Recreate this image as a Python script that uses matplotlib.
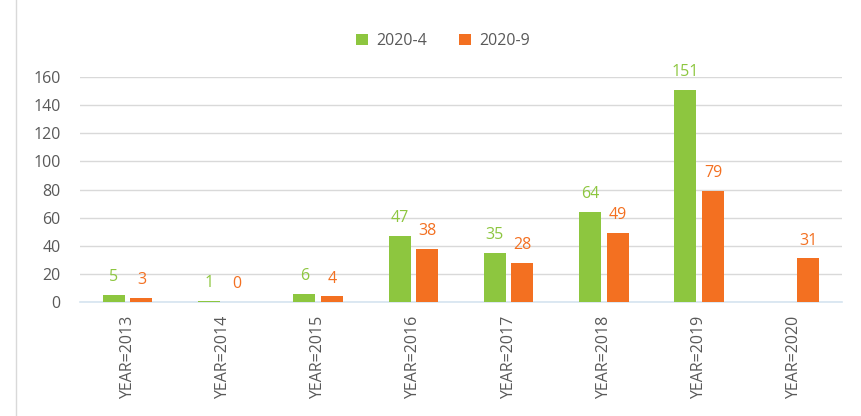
import matplotlib.pyplot as plt
import numpy as np
from matplotlib.lines import Line2D

years = ['YEAR=2013', 'YEAR=2014', 'YEAR=2015', 'YEAR=2016',
         'YEAR=2017', 'YEAR=2018', 'YEAR=2019', 'YEAR=2020']
apr_2020 = [5, 1, 6, 47, 35, 64, 151, None]
sep_2020 = [3, 0, 4, 38, 28, 49, 79, 31]
series_names = ['2020-4', '2020-9']

green = '#8DC63F'
orange = '#F37021'
grey_text = '#595959'

plt.rcParams['font.family'] = ['Open Sans', 'DejaVu Sans']

fig = plt.figure(figsize=(8.61, 4.16), dpi=100)
ax = fig.add_axes([80 / 861, 114 / 416, 762 / 861, 225 / 416])

x = np.arange(len(years))
w = 0.23
off = 0.145

apr_vals = [v if v is not None else 0 for v in apr_2020]
b1 = ax.bar(x - off, apr_vals, w, color=green, label=series_names[0], zorder=3)
b2 = ax.bar(x + off, sep_2020, w, color=orange, label=series_names[1], zorder=3)

for xi, v in zip(x, apr_2020):
    if v is not None:
        ax.text(xi - off, v + 7, str(v), ha='center', va='bottom',
                color=green, fontsize=11.5, clip_on=False)
for xi, v in zip(x, sep_2020):
    ax.text(xi + off, v + 7, str(v), ha='center', va='bottom',
            color=orange, fontsize=11.5, clip_on=False)

ax.set_xlim(-0.5, len(years) - 0.5)
ax.set_ylim(0, 160)
ax.set_yticks(range(0, 161, 20))
ax.yaxis.grid(True, color='#d9d9d9', linewidth=1, zorder=0)
ax.set_axisbelow(True)

for s in ['top', 'right', 'left']:
    ax.spines[s].set_visible(False)
ax.spines['bottom'].set_color('#d6e4f0')
ax.spines['bottom'].set_linewidth(1.2)

ax.set_xticks(x)
ax.set_xticklabels(years, rotation=90, color=grey_text, fontsize=11.5)
ax.tick_params(axis='both', length=0, colors=grey_text, labelsize=11.5)
ax.tick_params(axis='x', pad=10)
ax.tick_params(axis='y', pad=14)

fig.legend(handles=[b1, b2], loc='center', bbox_to_anchor=(443 / 861, 1 - 41 / 416),
           ncol=2, frameon=False, fontsize=11.5, handlelength=0.75, handleheight=0.75,
           columnspacing=2.0, handletextpad=0.5, labelcolor=grey_text)

fig.add_artist(Line2D([16 / 861, 16 / 861], [0, 1], color='#d9d9d9', linewidth=1))

fig.savefig('out.png', dpi=100)
